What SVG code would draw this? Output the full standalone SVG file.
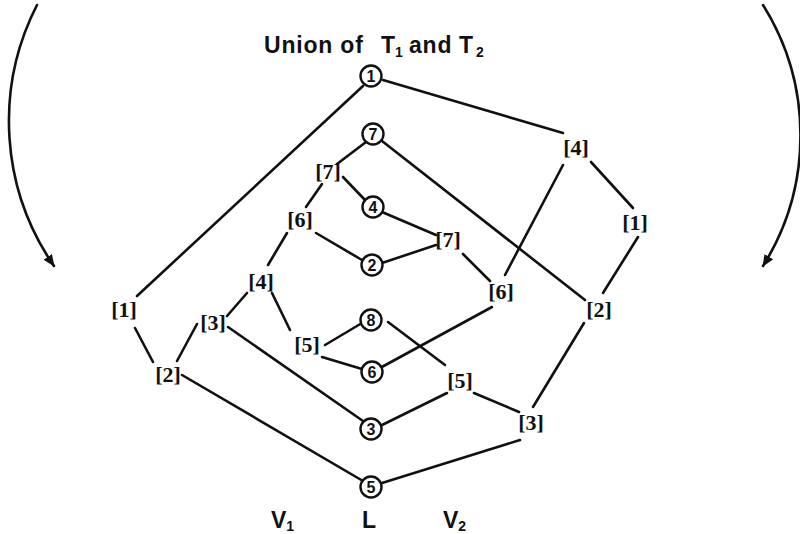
<svg xmlns="http://www.w3.org/2000/svg" width="800" height="534" viewBox="0 0 800 534">
<defs>
<marker id="ah" markerWidth="12" markerHeight="10" refX="11" refY="5" orient="auto" markerUnits="userSpaceOnUse">
<path d="M0,0 L12,5 L0,10 Z" fill="#111"/>
</marker>
<style>
.e{stroke:#111;stroke-width:2.6;fill:none;stroke-linecap:round}
.c{fill:#fff;stroke:#111;stroke-width:2.4}
.cn{font-family:"Liberation Sans",Arial,sans-serif;font-weight:bold;font-size:16px;fill:#111;text-anchor:middle}
.b{font-family:"Liberation Serif","Times New Roman",serif;font-weight:bold;font-size:22px;fill:#111;text-anchor:middle}
.t{font-family:"Liberation Sans",Arial,sans-serif;font-weight:bold;font-size:23px;fill:#111}
.s{font-size:14px}
</style>
</defs>
<rect width="800" height="534" fill="#fff"/>
<g id="arcs">
<path class="e" d="M37,5 A255,255 0 0 0 54,266" marker-end="url(#ah)"/>
<path class="e" d="M763,5 A246,246 0 0 1 763,266" marker-end="url(#ah)"/>
</g>
<g id="connectors">
<line class="e" x1="383" y1="80" x2="563" y2="133"/>
<line class="e" x1="363" y1="86" x2="137" y2="296"/>
<line class="e" x1="591" y1="162" x2="633" y2="208"/>
<line class="e" x1="563" y1="165" x2="505" y2="275"/>
<line class="e" x1="638" y1="237" x2="603" y2="293"/>
<line class="e" x1="366" y1="142" x2="337" y2="164"/>
<line class="e" x1="382" y1="141" x2="585" y2="300"/>
<line class="e" x1="343" y1="177" x2="365" y2="200"/>
<line class="e" x1="322" y1="184" x2="306" y2="207"/>
<line class="e" x1="382" y1="212" x2="436" y2="235"/>
<line class="e" x1="316" y1="233" x2="362" y2="260"/>
<line class="e" x1="382" y1="263" x2="436" y2="245"/>
<line class="e" x1="463" y1="254" x2="490" y2="281"/>
<line class="e" x1="287" y1="233" x2="268" y2="265"/>
<line class="e" x1="247" y1="293" x2="227" y2="316"/>
<line class="e" x1="272" y1="293" x2="290" y2="330"/>
<line class="e" x1="135" y1="328" x2="153" y2="362"/>
<line class="e" x1="197" y1="324" x2="177" y2="361"/>
<line class="e" x1="228" y1="327" x2="363" y2="421"/>
<line class="e" x1="182" y1="375" x2="363" y2="481"/>
<line class="e" x1="325" y1="345" x2="362" y2="323"/>
<line class="e" x1="322" y1="357" x2="362" y2="369"/>
<line class="e" x1="388" y1="322" x2="445" y2="365"/>
<line class="e" x1="380" y1="368" x2="492" y2="307"/>
<line class="e" x1="447" y1="393" x2="382" y2="425"/>
<line class="e" x1="474" y1="393" x2="519" y2="412"/>
<line class="e" x1="584" y1="323" x2="533" y2="407"/>
<line class="e" x1="520" y1="440" x2="382" y2="483"/>
</g>
<g id="title"><text class="t" y="53" font-size="24" letter-spacing="0.8"><tspan x="264">Union of</tspan><tspan x="381">T</tspan><tspan class="s" x="395" dy="4">1</tspan><tspan x="409" dy="-4">and</tspan><tspan x="459">T</tspan><tspan class="s" x="476" dy="4">2</tspan></text></g>
<g id="n1"><circle class="c" cx="371" cy="76" r="10.5"/><text class="cn" x="371" y="82">1</text></g>
<g id="n7"><circle class="c" cx="373" cy="134" r="10.5"/><text class="cn" x="373" y="140">7</text></g>
<g id="n4"><circle class="c" cx="373" cy="207" r="10.5"/><text class="cn" x="373" y="213">4</text></g>
<g id="n2"><circle class="c" cx="372" cy="265" r="10.5"/><text class="cn" x="372" y="271">2</text></g>
<g id="n8"><circle class="c" cx="371" cy="320" r="10.5"/><text class="cn" x="371" y="326">8</text></g>
<g id="n6"><circle class="c" cx="372" cy="372" r="10.5"/><text class="cn" x="372" y="378">6</text></g>
<g id="n3"><circle class="c" cx="371" cy="429" r="10.5"/><text class="cn" x="371" y="435">3</text></g>
<g id="n5"><circle class="c" cx="371" cy="487" r="10.5"/><text class="cn" x="371" y="493">5</text></g>
<g id="bL7"><text class="b" x="328" y="179">[7]</text></g>
<g id="bL6"><text class="b" x="300" y="227">[6]</text></g>
<g id="bL4"><text class="b" x="261" y="289">[4]</text></g>
<g id="bL1"><text class="b" x="124" y="317">[1]</text></g>
<g id="bL3"><text class="b" x="213" y="330">[3]</text></g>
<g id="bL5"><text class="b" x="307" y="352">[5]</text></g>
<g id="bL2"><text class="b" x="168" y="382">[2]</text></g>
<g id="bR4"><text class="b" x="576" y="155">[4]</text></g>
<g id="bR1"><text class="b" x="635" y="230">[1]</text></g>
<g id="bR7"><text class="b" x="448" y="247">[7]</text></g>
<g id="bR6"><text class="b" x="501" y="299">[6]</text></g>
<g id="bR2"><text class="b" x="599" y="317">[2]</text></g>
<g id="bR5"><text class="b" x="460" y="388">[5]</text></g>
<g id="bR3"><text class="b" x="531" y="430">[3]</text></g>
<g id="labels">
<text class="t" x="271" y="528">V<tspan class="s" dy="3">1</tspan></text>
<text class="t" x="362" y="528">L</text>
<text class="t" x="443" y="528">V<tspan class="s" dy="3">2</tspan></text>
</g>
</svg>
